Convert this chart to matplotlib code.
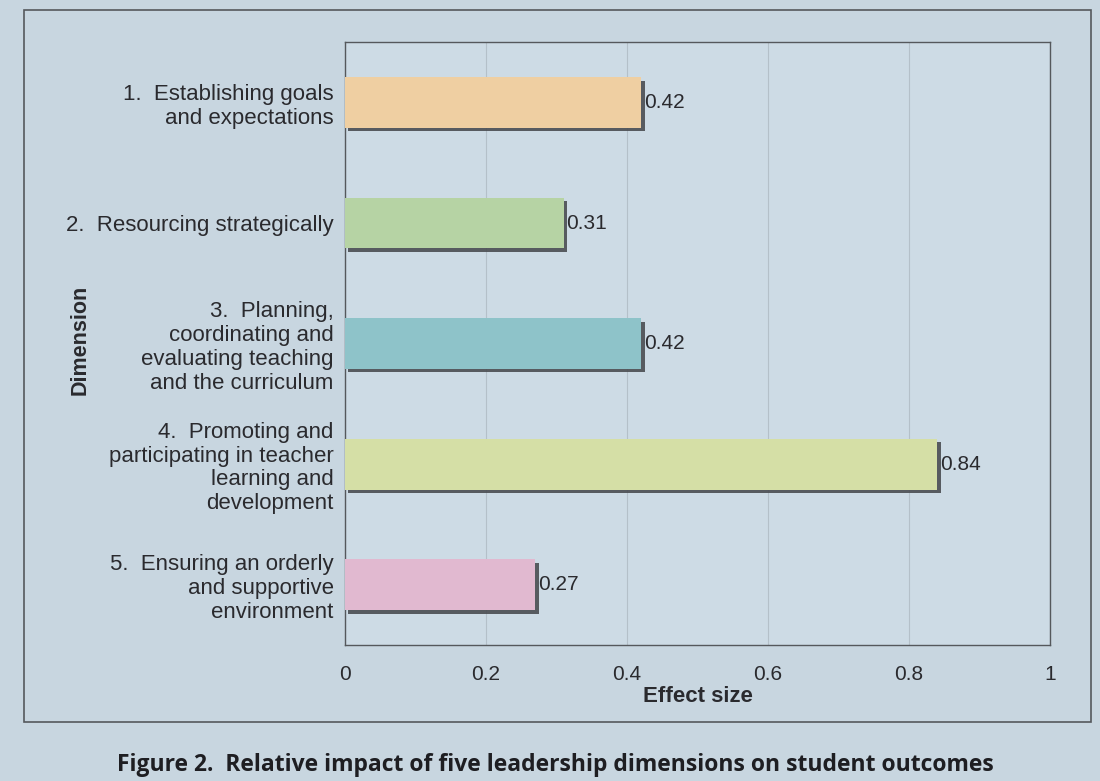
import matplotlib.pyplot as plt
import matplotlib.patheffects as pe
from matplotlib.patches import Rectangle

# Данные графика
dimensions = [
    '1.  Establishing goals\nand expectations',
    '2.  Resourcing strategically',
    '3.  Planning,\ncoordinating and\nevaluating teaching\nand the curriculum',
    '4.  Promoting and\nparticipating in teacher\nlearning and\ndevelopment',
    '5.  Ensuring an orderly\nand supportive\nenvironment',
]
effect_sizes = [0.42, 0.31, 0.42, 0.84, 0.27]
value_labels = ['0.42', '0.31', '0.42', '0.84', '0.27']
bar_colors = ['#efcfa2', '#b6d3a4', '#8ec3c9', '#d5dfa6', '#e1b9d0']
x_ticks = [0, 0.2, 0.4, 0.6, 0.8, 1]
x_tick_labels = ['0', '0.2', '0.4', '0.6', '0.8', '1']

page = '#c8d6e0'
ink = '#2a2a2e'

plt.rcParams['font.family'] = ['Liberation Sans', 'DejaVu Sans']

fig = plt.figure(figsize=(11, 7.81), dpi=100)
fig.patch.set_facecolor(page)

# Рамка вокруг рисунка
fig.add_artist(Rectangle((0.022, 0.075), 0.970, 0.912, transform=fig.transFigure,
                         fill=False, edgecolor='#55585c', linewidth=1.2))

ax = fig.add_axes([0.3136, 0.174, 0.641, 0.772])
ax.set_facecolor('#cddbe5')

y = list(range(len(dimensions)))
bars = ax.barh(y, effect_sizes, height=0.42, color=bar_colors, zorder=3)
for b in bars:
    b.set_path_effects([pe.SimplePatchShadow(offset=(2.5, -2.5), shadow_rgbFace='#4a4d52', alpha=0.9),
                        pe.Normal()])

for yi, v, lab in zip(y, effect_sizes, value_labels):
    ax.text(v + 0.004, yi, lab, va='center', ha='left', fontsize=15, color=ink, zorder=4)

ax.set_xlim(0, 1)
ax.set_ylim(len(dimensions) - 0.5, -0.5)
ax.set_xticks(x_ticks)
ax.set_xticklabels(x_tick_labels, fontsize=15, color=ink)
ax.set_yticks(y)
ax.set_yticklabels(dimensions, fontsize=16, color=ink, linespacing=1.17)
ax.tick_params(axis='x', length=0, pad=14)
ax.tick_params(axis='y', length=0, pad=8)
ax.grid(axis='x', color='#b4c0c9', linewidth=0.8, zorder=0)

for s in ax.spines.values():
    s.set_color('#55585c')
    s.set_linewidth(1.0)

ax.set_xlabel('Effect size', fontsize=16, fontweight='bold', color=ink, labelpad=2)
fig.text(0.073, 0.565, 'Dimension', rotation=90, ha='center', va='center',
         fontsize=15.5, fontweight='bold', color=ink)

fig.text(0.505, 0.02, 'Figure 2.  Relative impact of five leadership dimensions on student outcomes',
         ha='center', va='center', fontsize=16.5, fontweight='bold', color='#1e1e22',
         family=['Open Sans', 'DejaVu Sans'])

fig.savefig('out.png', dpi=100, facecolor=fig.get_facecolor())
